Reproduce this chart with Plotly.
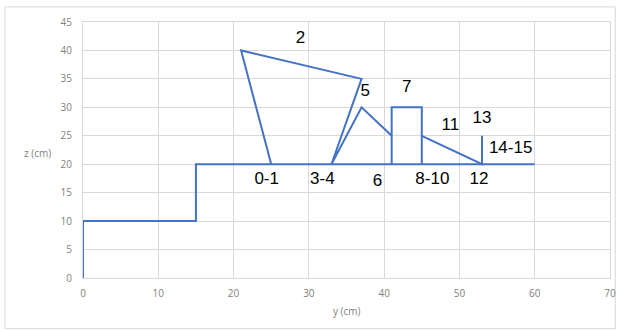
import plotly.graph_objects as go

# Channel bed profile (y, z) in cm
bed_y = [0, 0, 15, 15, 60]
bed_z = [0, 10, 10, 20, 20]

# Cross-section outline through the numbered points
profile_y = [25, 21, 37, 33, 37, 41, 41, 45, 45, 53, 53]
profile_z = [20, 40, 35, 20, 30, 25, 30, 30, 25, 20, 25]

# Vertical walls of the block between points 6 and 8-10
wall_y = [41, 41, None, 45, 45]
wall_z = [20, 25, None, 20, 25]

# Point labels and their positions
label_text = ["2", "5", "7", "11", "13", "14-15", "0-1", "3-4", "6", "8-10", "12"]
label_y = [28.9, 37.5, 43.0, 48.8, 53.0, 56.8, 24.4, 31.8, 39.1, 46.4, 52.6]
label_z = [42.0, 32.7, 33.5, 26.7, 28.0, 22.7, 17.2, 17.2, 16.9, 17.2, 17.2]

line_color = "#4472C4"

fig = go.Figure()
for xs, zs in [(bed_y, bed_z), (profile_y, profile_z), (wall_y, wall_z)]:
    fig.add_trace(go.Scatter(
        x=xs, y=zs, mode="lines",
        line=dict(color=line_color, width=2),
        showlegend=False, hoverinfo="skip", connectgaps=False,
    ))

fig.add_trace(go.Scatter(
    x=label_y, y=label_z, mode="text", text=label_text,
    textfont=dict(family="Liberation Sans, Arial, sans-serif", size=17, color="#000000"),
    showlegend=False, hoverinfo="skip",
))

axis_font = dict(family="Open Sans, Liberation Sans, sans-serif", size=10, color="#7f7f7f")

fig.update_layout(
    width=620, height=331,
    margin=dict(l=83, r=10, t=22, b=53, autoexpand=False),
    paper_bgcolor="white", plot_bgcolor="white",
    xaxis=dict(
        range=[0, 70], dtick=10, showgrid=True, gridcolor="#d9d9d9", gridwidth=1,
        zeroline=False, showline=True, linecolor="#d9d9d9", mirror=True,
        tickfont=axis_font, ticks="", ticklabelstandoff=6, fixedrange=True,
        automargin=False,
    ),
    yaxis=dict(
        range=[0, 45], dtick=5, showgrid=True, gridcolor="#d9d9d9", gridwidth=1,
        zeroline=False, showline=True, linecolor="#d9d9d9", mirror=True,
        tickfont=axis_font, ticks="", ticklabelstandoff=8, fixedrange=True,
        automargin=False,
    ),
    shapes=[dict(
        type="rect", xref="paper", yref="paper",
        x0=-0.148, x1=1.010, y0=-0.198, y1=1.059,
        line=dict(color="#d9d9d9", width=1), fillcolor="rgba(0,0,0,0)", layer="below",
    )],
    annotations=[
        dict(text="y (cm)", xref="paper", yref="paper", x=0.5, y=-0.13,
             xanchor="center", yanchor="middle", showarrow=False, font=axis_font),
        dict(text="z (cm)", xref="paper", yref="paper", x=-0.057, y=0.488,
             xanchor="right", yanchor="middle", showarrow=False, font=axis_font),
    ],
)

fig.write_html("out.html")
